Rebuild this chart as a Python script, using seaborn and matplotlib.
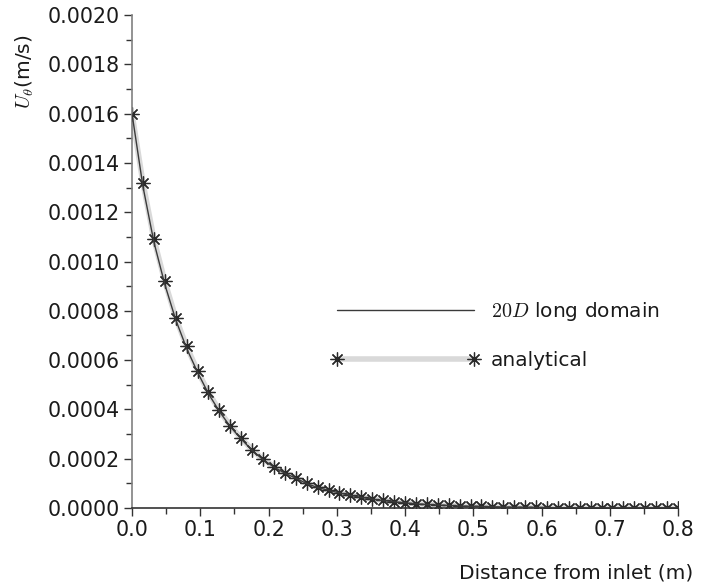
import numpy as np
import pandas as pd
import matplotlib
matplotlib.use("Agg")
import matplotlib.pyplot as plt
from matplotlib.ticker import MultipleLocator, FormatStrFormatter
import seaborn as sns

# Axial positions of the sampled stations (m)
distance = [0.000, 0.016, 0.032, 0.048, 0.064, 0.080, 0.096, 0.112, 0.128, 0.144,
            0.160, 0.176, 0.192, 0.208, 0.224, 0.240, 0.256, 0.272, 0.288, 0.304,
            0.320, 0.336, 0.352, 0.368, 0.384, 0.400, 0.416, 0.432, 0.448, 0.464,
            0.480, 0.496, 0.512, 0.528, 0.544, 0.560, 0.576, 0.592, 0.608, 0.624,
            0.640, 0.656, 0.672, 0.688, 0.704, 0.720, 0.736, 0.752, 0.768, 0.784,
            0.800]

# Swirl velocity, analytical decay (m/s)
u_analytical = [0.001600, 0.001320, 0.001092, 0.000920, 0.000772, 0.000656, 0.000557,
                0.000469, 0.000396, 0.000333, 0.000283, 0.000236, 0.000198, 0.000168,
                0.000143, 0.000123, 0.000100, 0.000084, 0.000073, 0.000062, 0.000052,
                0.000044, 0.000037, 0.000031, 0.000026, 0.000022, 0.000018, 0.000015,
                0.000013, 0.000011, 0.000009, 0.000008, 0.000007, 0.000006, 0.000005,
                0.000004, 0.000003, 0.000003, 0.000002, 0.000002, 0.000002, 0.000001,
                0.000001, 0.000001, 0.000001, 0.000001, 0.000000, 0.000000, 0.000000,
                0.000000, 0.000000]

# Swirl velocity from the 20D long domain simulation (m/s)
u_20d = [0.001600, 0.001305, 0.001080, 0.000908, 0.000764, 0.000648, 0.000551,
         0.000464, 0.000392, 0.000330, 0.000280, 0.000234, 0.000196, 0.000166,
         0.000141, 0.000121, 0.000099, 0.000083, 0.000072, 0.000061, 0.000051,
         0.000043, 0.000036, 0.000030, 0.000025, 0.000021, 0.000017, 0.000014,
         0.000012, 0.000010, 0.000008, 0.000007, 0.000006, 0.000005, 0.000004,
         0.000003, 0.000003, 0.000002, 0.000002, 0.000001, 0.000001, 0.000001,
         0.000001, 0.000000, 0.000000, 0.000000, 0.000000, 0.000000, 0.000000,
         0.000000, 0.000000]

x_ticks = [0.0, 0.1, 0.2, 0.3, 0.4, 0.5, 0.6, 0.7, 0.8]
y_ticks = [0.0000, 0.0002, 0.0004, 0.0006, 0.0008, 0.0010, 0.0012, 0.0014,
           0.0016, 0.0018, 0.0020]

df = pd.DataFrame({"distance": distance,
                   "analytical": u_analytical,
                   "domain20": u_20d})

sns.set_theme(style="ticks")
plt.rcParams["font.family"] = ["DejaVu Sans"]
plt.rcParams["mathtext.fontset"] = "cm"

fig = plt.figure(figsize=(7.01, 5.85), dpi=100)
ax = fig.add_axes([132 / 701, 77 / 585, 546 / 701, 493 / 585])

star = (8, 2, 0)

sns.lineplot(data=df, x="distance", y="analytical", ax=ax,
             color="#d9d9d9", linewidth=4.0, marker=star, markersize=10,
             markeredgecolor="#2a2a2a", markerfacecolor="#2a2a2a",
             markeredgewidth=0.9, label="analytical", zorder=2)
sns.lineplot(data=df, x="distance", y="domain20", ax=ax,
             color="#3a3a3a", linewidth=1.0,
             label="$20D$ long domain", zorder=3)

ax.set_xlim(0, 0.8)
ax.set_ylim(0, 0.002)
ax.set_xticks(x_ticks)
ax.set_yticks(y_ticks)
ax.xaxis.set_major_formatter(FormatStrFormatter("%.1f"))
ax.yaxis.set_major_formatter(FormatStrFormatter("%.4f"))
ax.xaxis.set_minor_locator(MultipleLocator(0.05))
ax.yaxis.set_minor_locator(MultipleLocator(0.0001))

ax.tick_params(axis="both", which="major", labelsize=14.8, length=6, width=1,
               color="#333333", labelcolor="#1a1a1a", direction="out", pad=3)
ax.tick_params(axis="both", which="minor", length=4, width=1, color="#333333",
               direction="out")

sns.despine(ax=ax)
ax.spines["left"].set_color("#808080")
ax.spines["left"].set_linewidth(1.2)
ax.spines["bottom"].set_color("#333333")
ax.spines["bottom"].set_linewidth(1.2)

ax.set_xlabel("Distance from inlet (m)", fontsize=14.5, color="#1a1a1a",
              ha="right", va="top")
ax.xaxis.set_label_coords(1.0275, -0.112)
ax.set_ylabel(r"$U_\theta$(m/s)", fontsize=14.5, color="#1a1a1a", va="center")
ax.yaxis.set_label_coords(-0.196, 0.884)

# Legend: line entry first, then the marked analytical entry
handles, labels = ax.get_legend_handles_labels()
order = [labels.index("$20D$ long domain"), labels.index("analytical")]
leg = ax.legend([handles[i] for i in order], [labels[i] for i in order],
                frameon=False, fontsize=14.5, numpoints=2, handlelength=7.4,
                handletextpad=0.55, labelspacing=1.38, borderpad=0,
                borderaxespad=0, loc="upper left",
                bbox_to_anchor=(331 / 701, (585 - 300) / 585),
                bbox_transform=fig.transFigure)
for t in leg.get_texts():
    t.set_color("#1a1a1a")

fig.savefig("out.png", dpi=100)
